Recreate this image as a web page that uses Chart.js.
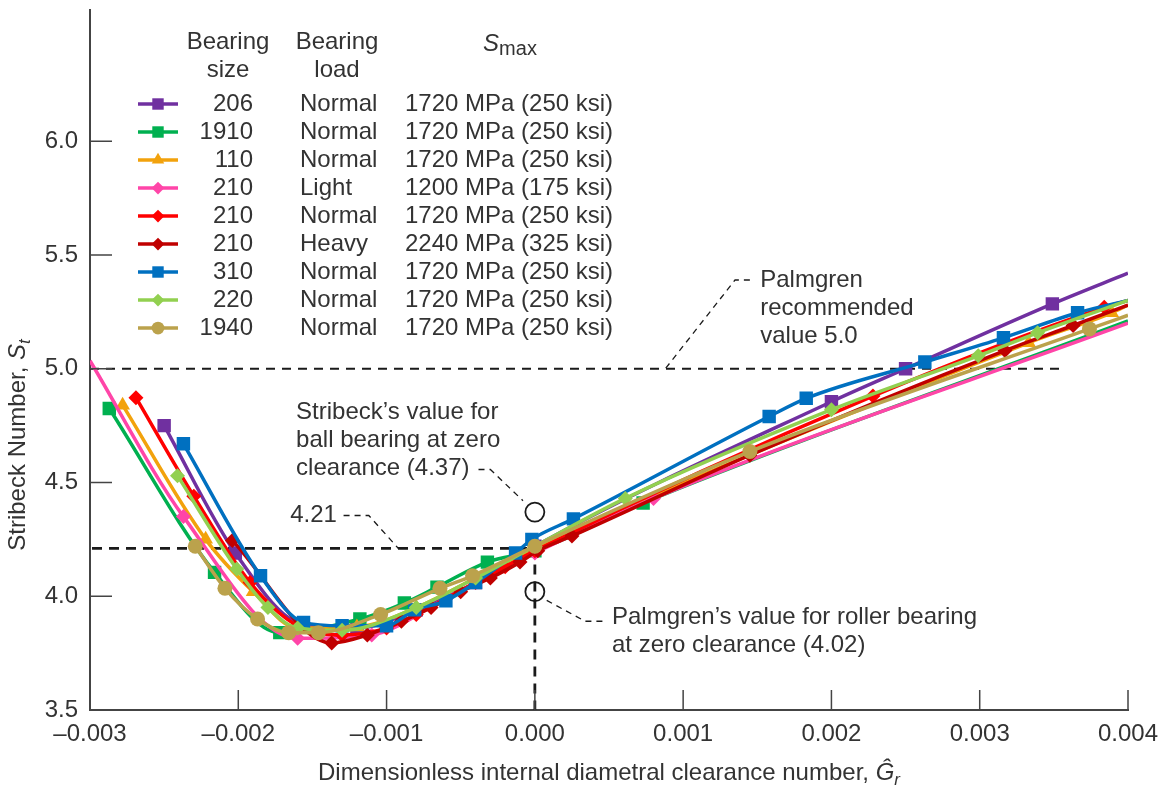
<!DOCTYPE html>
<html>
<head>
<meta charset="utf-8">
<script src="https://cdn.jsdelivr.net/npm/chart.js@4.4.1/dist/chart.umd.min.js"></script>
<style>
	html, body { margin: 0; padding: 0; background: #fff; }
	#wrap { width: 1162px; height: 788px; }
</style>
</head>
<body>
<div id="wrap"><canvas id="stribeck" width="1162" height="788"></canvas></div>
<script>
// legend table
const bearingSize = [ '206', '1910', '110', '210', '210', '210', '310', '220', '1940' ];
const bearingLoad = [ 'Normal', 'Normal', 'Normal', 'Light', 'Normal', 'Heavy', 'Normal', 'Normal', 'Normal' ];
const sMax = [ '1720 MPa (250 ksi)', '1720 MPa (250 ksi)', '1720 MPa (250 ksi)', '1200 MPa (175 ksi)',
	'1720 MPa (250 ksi)', '2240 MPa (325 ksi)', '1720 MPa (250 ksi)', '1720 MPa (250 ksi)', '1720 MPa (250 ksi)' ];

// clearance number Gr (x) and Stribeck number St (y)
const gr206 = [ -0.0025, -0.00202, -0.00157, -0.0012, -0.0008, -0.0004, 0, 0.002, 0.0025, 0.00349, 0.004 ];
const st206 = [ 4.75, 4.19, 3.877, 3.86, 3.94, 4.06, 4.22, 4.855, 5.0, 5.285, 5.42 ];
const gr1910 = [ -0.00287, -0.00216, -0.00172, -0.00118, -0.00088, -0.00066, -0.00032, 0, 0.00073, 0.004 ];
const st1910 = [ 4.825, 4.105, 3.84, 3.90, 3.97, 4.04, 4.15, 4.20, 4.41, 5.21 ];
const gr110 = [ -0.00278, -0.00222, -0.0019, -0.0016, -0.0012, -0.0008, -0.0004, 0, 0.00333, 0.00389, 0.004 ];
const st110 = [ 4.84, 4.25, 4.02, 3.86, 3.865, 3.95, 4.08, 4.21, 5.114, 5.246, 5.28 ];
const gr210L = [ -0.003, -0.00237, -0.0016, -0.0011, -0.0006, 0, 0.0008, 0.004 ];
const st210L = [ 5.035, 4.35, 3.815, 3.83, 3.99, 4.19, 4.43, 5.20 ];
const gr210N = [ -0.00269, -0.0023, -0.00192, -0.0016, -0.0013, -0.001, -0.0008, -0.0006, -0.0004, -0.0002, 0, 0.00228, 0.00384, 0.004 ];
const st210N = [ 4.873, 4.44, 4.06, 3.87, 3.83, 3.86, 3.92, 3.99, 4.06, 4.13, 4.20, 4.88, 5.27, 5.30 ];
const gr210H = [ -0.00204, -0.00137, -0.00113, -0.0009, -0.0007, -0.0005, -0.0003, -0.0001, 0.00002, 0.00025, 0.00145, 0.00317, 0.00363, 0.004 ];
const st210H = [ 4.245, 3.795, 3.83, 3.89, 3.95, 4.02, 4.08, 4.15, 4.20, 4.265, 4.62, 5.08, 5.19, 5.28 ];
const gr310 = [ -0.00237, -0.00185, -0.00156, -0.0013, -0.001, -0.00081, -0.0006, -0.0004, -0.00013, -0.00002, 0.00026, 0.00158, 0.00183, 0.00263, 0.00316, 0.00366, 0.004 ];
const st310 = [ 4.67, 4.09, 3.885, 3.87, 3.87, 3.94, 3.98, 4.06, 4.19, 4.25, 4.34, 4.79, 4.87, 5.03, 5.136, 5.246, 5.30 ];
const gr220 = [ -0.00241, -0.00201, -0.0018, -0.0016, -0.0013, -0.0008, -0.0004, 0, 0.00061, 0.002, 0.00299, 0.00339, 0.004 ];
const st220 = [ 4.53, 4.12, 3.95, 3.86, 3.85, 3.95, 4.08, 4.22, 4.43, 4.82, 5.057, 5.158, 5.30 ];
const gr1940 = [ -0.00229, -0.00209, -0.00187, -0.00166, -0.00146, -0.00104, -0.00064, -0.00042, 0, 0.00145, 0.00374, 0.004 ];
const st1940 = [ 4.22, 4.035, 3.90, 3.84, 3.84, 3.92, 4.035, 4.09, 4.22, 4.636, 5.175, 5.235 ];

// axis ticks
const xTicks = [ -0.003, -0.002, -0.001, 0, 0.001, 0.002, 0.003, 0.004 ];
const yTicks = [ 3.5, 4.0, 4.5, 5.0, 5.5, 6.0 ];

// reference values
const palmgrenRecommended = 5.0;
const stribeckBall = 4.37;
const palmgrenRoller = 4.02;
const minimumSt = 4.21;

const xs = [ gr206, gr1910, gr110, gr210L, gr210N, gr210H, gr310, gr220, gr1940 ];
const ys = [ st206, st1910, st110, st210L, st210N, st210H, st310, st220, st1940 ];

const colors = [ '#7030a0', '#00b050', '#f2a20c', '#ff45a8', '#ff0000', '#c00000', '#0070c0', '#92d050', '#bba24c' ];
const shapes = [ 'rect', 'rect', 'triangle', 'rectRot', 'rectRot', 'rectRot', 'rect', 'rectRot', 'circle' ];
const radii = [ 9.5, 9.5, 8.5, 7.5, 7.5, 7.5, 9.5, 7.5, 7.5 ];

const FONT = '"Liberation Sans", Arial, Helvetica, sans-serif';
const TXT = '#333';
const FS = 24;
const X_MIN = -0.003, X_MAX = 0.004;

const datasets = xs.map( ( gx, i ) => ({
	label: bearingSize[i] + ' ' + bearingLoad[i],
	data: gx.map( ( v, j ) => ({ x: v, y: ys[i][j] }) ),
	showLine: true,
	borderColor: colors[i],
	backgroundColor: colors[i],
	borderWidth: 3.5,
	cubicInterpolationMode: 'monotone',
	pointStyle: shapes[i],
	// line ends on the frame carry no marker
	pointRadius: ctx => {
		const v = gx[ctx.dataIndex];
		return ( v <= X_MIN + 1e-9 || v >= X_MAX - 1e-9 ) ? 0 : radii[i];
	},
	pointBorderWidth: 0,
	order: 9 - i
}));

function richText( ctx, parts, x, y, align ){
	let w = 0;
	parts.forEach( p => { ctx.font = p.font; p.w = ctx.measureText( p.t ).width; w += p.w; } );
	let cx = align === 'center' ? x - w / 2 : ( align === 'right' ? x - w : x );
	ctx.textAlign = 'left';
	parts.forEach( p => { ctx.font = p.font; ctx.fillText( p.t, cx, y + ( p.dy || 0 ) ); cx += p.w; } );
}

function dashedPath( ctx, pts, dash, width ){
	ctx.save();
	ctx.setLineDash( dash );
	ctx.lineWidth = width;
	ctx.strokeStyle = '#1a1a1a';
	ctx.beginPath();
	pts.forEach( ( p, k ) => k ? ctx.lineTo( p[0], p[1] ) : ctx.moveTo( p[0], p[1] ) );
	ctx.stroke();
	ctx.restore();
}

// reference lines under the curves
const refLines = {
	id: 'refLines',
	beforeDatasetsDraw( chart ){
		const { ctx, scales: { x, y }, chartArea: a } = chart;
		const y5 = y.getPixelForValue( palmgrenRecommended );
		dashedPath( ctx, [ [ a.left, y5 ], [ x.getPixelForValue( 0.00355 ), y5 ] ], [ 9, 7 ], 2 );
		const ym = y.getPixelForValue( minimumSt );
		const x0 = x.getPixelForValue( 0 );
		dashedPath( ctx, [ [ a.left + 2, ym ], [ x0, ym ], [ x0, a.bottom ] ], [ 10, 7 ], 2.8 );
	}
};

// inward ticks, circles, notes, axis titles and the legend table
const overlay = {
	id: 'overlay',
	afterDraw( chart ){
		const { ctx, scales: { x, y }, chartArea: a } = chart;
		ctx.save();
		ctx.strokeStyle = '#444';
		ctx.lineWidth = 1.5;
		ctx.beginPath();
		xTicks.forEach( v => { const px = x.getPixelForValue( v ); ctx.moveTo( px, a.bottom ); ctx.lineTo( px, a.bottom - 20 ); } );
		yTicks.forEach( v => { const py = y.getPixelForValue( v ); ctx.moveTo( a.left, py ); ctx.lineTo( a.left + 22, py ); } );
		ctx.stroke();

		// open circles at zero clearance
		ctx.strokeStyle = '#1a1a1a';
		ctx.lineWidth = 1.8;
		[ stribeckBall, palmgrenRoller ].forEach( v => {
			ctx.beginPath();
			ctx.arc( x.getPixelForValue( 0 ), y.getPixelForValue( v ), 9.5, 0, Math.PI * 2 );
			ctx.stroke();
		});

		const P = ( gx, sy ) => [ x.getPixelForValue( gx ), y.getPixelForValue( sy ) ];
		const lead = [ 6, 5 ];
		dashedPath( ctx, [ P( 0.00145, 5.39 ), P( 0.00135, 5.39 ), P( 0.00088, 5.0 ) ], lead, 1.3 );
		dashedPath( ctx, [ P( -0.00038, 4.557 ), P( -0.0003, 4.557 ), P( -0.00008, 4.42 ) ], lead, 1.3 );
		dashedPath( ctx, [ P( -0.00129, 4.355 ), P( -0.00112, 4.355 ), P( -0.00092, 4.21 ) ], lead, 1.3 );
		dashedPath( ctx, [ P( 0.00008, 3.982 ), P( 0.00034, 3.89 ), P( 0.00046, 3.89 ) ], lead, 1.3 );

		ctx.fillStyle = TXT;
		ctx.textBaseline = 'middle';
		ctx.textAlign = 'left';
		ctx.font = FS + 'px ' + FONT;
		const note = ( lines, gx, sy ) => {
			const [ px, py ] = P( gx, sy );
			lines.forEach( ( t, k ) => ctx.fillText( t, px, py + k * 28 ) );
		};
		note( [ 'Palmgren', 'recommended', 'value 5.0' ], 0.00152, 5.39 );
		note( [ 'Stribeck\u2019s value for', 'ball bearing at zero', 'clearance (4.37)' ], -0.00161, 4.807 );
		note( [ '4.21' ], -0.00165, 4.355 );
		note( [ 'Palmgren\u2019s value for roller bearing', 'at zero clearance (4.02)' ], 0.00052, 3.908 );

		// axis titles
		const reg = FS + 'px ' + FONT;
		const ita = 'italic ' + FS + 'px ' + FONT;
		const sub = 'italic ' + Math.round( FS * 0.72 ) + 'px ' + FONT;
		richText( ctx, [
			{ t: 'Dimensionless internal diametral clearance number, ', font: reg },
			{ t: '\u011C', font: ita },
			{ t: 'r', font: sub, dy: 7 }
		], ( a.left + a.right ) / 2, 773, 'center' );
		ctx.save();
		ctx.translate( 18, 445 );
		ctx.rotate( -Math.PI / 2 );
		richText( ctx, [
			{ t: 'Stribeck Number, ', font: reg },
			{ t: 'S', font: ita },
			{ t: 't', font: sub, dy: 7 }
		], 0, 0, 'center' );
		ctx.restore();

		// legend table
		const top = 104, step = 28;
		richText( ctx, [ { t: 'Bearing', font: reg } ], 228, 42, 'center' );
		richText( ctx, [ { t: 'size', font: reg } ], 228, 70, 'center' );
		richText( ctx, [ { t: 'Bearing', font: reg } ], 337, 42, 'center' );
		richText( ctx, [ { t: 'load', font: reg } ], 337, 70, 'center' );
		richText( ctx, [
			{ t: 'S', font: ita },
			{ t: 'max', font: Math.round( FS * 0.85 ) + 'px ' + FONT, dy: 5 }
		], 510, 44, 'center' );
		bearingSize.forEach( ( s, i ) => {
			const ry = top + i * step;
			ctx.strokeStyle = colors[i];
			ctx.fillStyle = colors[i];
			ctx.lineWidth = 3.5;
			ctx.beginPath();
			ctx.moveTo( 138, ry );
			ctx.lineTo( 178, ry );
			ctx.stroke();
			Chart.helpers.drawPoint( ctx, { pointStyle: shapes[i], radius: radii[i] * 0.85, rotation: 0, borderWidth: 0 }, 158, ry );
			ctx.fillStyle = TXT;
			ctx.font = reg;
			ctx.textAlign = 'right';
			ctx.fillText( s, 253, ry );
			ctx.textAlign = 'left';
			ctx.fillText( bearingLoad[i], 300, ry );
			ctx.fillText( sMax[i], 405, ry );
		});
		ctx.restore();
	}
};

new Chart( document.getElementById( 'stribeck' ), {
	type: 'scatter',
	data: { datasets },
	options: {
		responsive: false,
		devicePixelRatio: 1,
		animation: false,
		events: [],
		layout: { padding: { top: 8, right: 34, left: 0, bottom: 0 } },
		plugins: { legend: { display: false }, tooltip: { enabled: false } },
		scales: {
			x: {
				type: 'linear',
				min: X_MIN,
				max: X_MAX,
				afterFit: s => { s.height = 78; s.paddingLeft = 0; s.paddingRight = 0; },
				afterBuildTicks: s => { s.ticks = xTicks.map( v => ({ value: v }) ); },
				grid: { display: false, drawTicks: false },
				border: { display: true, color: '#444', width: 2 },
				ticks: {
					padding: 10,
					color: TXT,
					font: { family: FONT, size: FS },
					callback: v => ( Math.round( v * 1e6 ) < 0 ? '\u2013' : '' ) + Math.abs( v ).toFixed( 3 )
				}
			},
			y: {
				type: 'linear',
				min: 3.5,
				max: 6.579,
				afterFit: s => { s.width = 90; s.paddingTop = 0; s.paddingBottom = 0; },
				afterBuildTicks: s => { s.ticks = yTicks.map( v => ({ value: v }) ); },
				grid: { display: false, drawTicks: false },
				border: { display: true, color: '#444', width: 2 },
				ticks: {
					padding: 12,
					color: TXT,
					font: { family: FONT, size: FS },
					callback: v => v.toFixed( 1 )
				}
			}
		}
	},
	plugins: [ refLines, overlay ]
});
</script>
</body>
</html>
